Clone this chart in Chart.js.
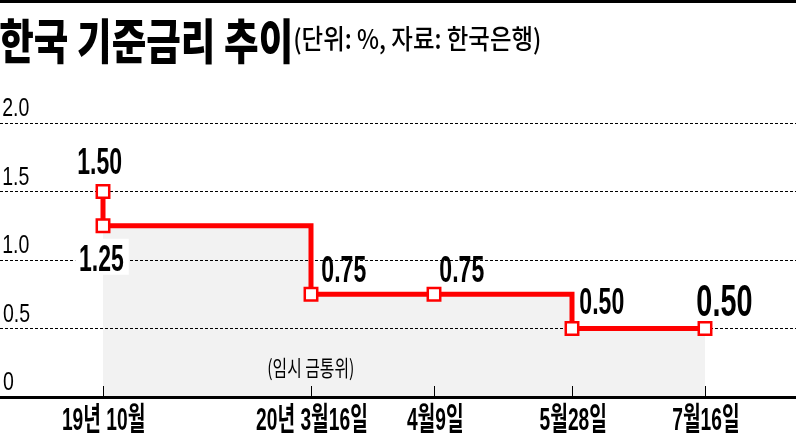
<!DOCTYPE html>
<html>
<head>
<meta charset="utf-8">
<style>
  html, body { margin: 0; padding: 0; background: #fff; }
</style>
</head>
<body>
<canvas id="rate-chart" width="796" height="435"></canvas>
<script src="https://cdn.jsdelivr.net/npm/chart.js@4/dist/chart.umd.min.js"></script>
<script>
// 회의 날짜 (x축 눈금), 간격은 원본처럼 불균등
const dates = ['19년 10월', '20년 3월16일', '4월9일', '5월28일', '7월16일'];
const dateSlots = [0, 2.08, 3.31, 4.69, 6.02];
// 기준금리 (%) 와 해당 날짜 인덱스
const rates = [1.50, 1.25, 0.75, 0.75, 0.50, 0.50];
const rateDate = [0, 0, 1, 2, 3, 4];
const rateText = ['1.50', '1.25', '0.75', '0.75', '0.50', '0.50'];
const yTicks = [0, 0.5, 1.0, 1.5, 2.0];

// 라벨 배치 (스타일)
const labelStyle = [
  { align: 'center', dx: -3, dy: -18, size: 36 },
  { align: 'center', dx: -1, dy: 45, size: 36, box: true },
  { align: 'left', dx: 11, dy: -12, size: 36 },
  { align: 'left', dx: 6, dy: -12, size: 36 },
  { align: 'left', dx: 8, dy: -15, size: 36 },
  { align: 'left', dx: -8, dy: -13, size: 45 }
];

const FONT = '"Liberation Sans", "Noto Sans CJK KR", sans-serif';
const KFONT = '"Noto Sans CJK KR", sans-serif';

// 가로로 눌린 글꼴 흉내: k 배율로 x 방향만 축소
function squeeze(ctx, text, x, y, font, k, align) {
  ctx.save();
  ctx.font = font;
  const m = ctx.measureText(text);
  const w = m.actualBoundingBoxLeft + m.actualBoundingBoxRight;
  ctx.translate(x, y);
  ctx.scale(k, 1);
  ctx.textAlign = 'left';
  ctx.textBaseline = 'alphabetic';
  const left = align === 'center' ? -w / 2 : 0;
  ctx.fillText(text, left + m.actualBoundingBoxLeft, 0);
  ctx.restore();
  return { left: x + left * k, width: w * k, asc: m.actualBoundingBoxAscent };
}

function fitWidth(ctx, text, x, y, font, width) {
  ctx.save();
  ctx.font = font;
  const m = ctx.measureText(text);
  ctx.restore();
  const w = m.actualBoundingBoxLeft + m.actualBoundingBoxRight;
  return squeeze(ctx, text, x, y, font, width / w, 'left');
}

const decorations = {
  id: 'decorations',
  afterDraw(chart) {
    const ctx = chart.ctx;
    const xs = chart.scales.x, ys = chart.scales.y;
    ctx.fillStyle = '#000';
    ctx.fillRect(0, 0, 796, 3);

    fitWidth(ctx, '한국 기준금리 추이', 0, 59, '900 48px ' + KFONT, 290);
    fitWidth(ctx, '(단위: %, 자료: 한국은행)', 295, 49, '500 27px ' + KFONT, 245);

    ys.ticks.forEach(t => {
      const y = ys.getPixelForValue(t.value);
      const txt = t.value === 0 ? '0' : t.value.toFixed(1);
      squeeze(ctx, txt, 3, y - 7, '25px ' + FONT, 0.78, 'left');
    });

    ctx.strokeStyle = '#000';
    ctx.lineWidth = 1;
    dateSlots.forEach((v, i) => {
      const x = Math.round(xs.getPixelForValue(v)) + 0.5;
      ctx.beginPath();
      ctx.moveTo(x, xs.top - 11);
      ctx.lineTo(x, xs.top);
      ctx.stroke();
      ctx.fillStyle = '#000';
      squeeze(ctx, dates[i], x, 430, 'bold 32px ' + FONT, 0.6, 'center');
    });

    squeeze(ctx, '(임시 금통위)', xs.getPixelForValue(dateSlots[1]), 376, '22px ' + KFONT, 0.72, 'center');

    const pts = chart.getDatasetMeta(0).data;
    rateText.forEach((txt, i) => {
      const s = labelStyle[i];
      const p = pts[i];
      const font = 'bold ' + s.size + 'px ' + FONT;
      const k = 0.64;
      if (s.box) {
        ctx.save();
        ctx.font = font;
        const m = ctx.measureText(txt);
        ctx.restore();
        const w = (m.actualBoundingBoxLeft + m.actualBoundingBoxRight) * k;
        ctx.fillStyle = '#fff';
        ctx.fillRect(p.x + s.dx - w / 2 - 5, p.y + s.dy - m.actualBoundingBoxAscent - 6, w + 10, m.actualBoundingBoxAscent + 10);
      }
      ctx.fillStyle = '#000';
      squeeze(ctx, txt, p.x + s.dx, p.y + s.dy, font, k, s.align);
    });
  }
};

new Chart(document.getElementById('rate-chart'), {
  type: 'line',
  data: {
    datasets: [{
      data: rates.map((v, i) => ({ x: dateSlots[rateDate[i]], y: v })),
      stepped: 'before',
      borderColor: '#ff0000',
      borderWidth: 5,
      borderJoinStyle: 'miter',
      fill: 'origin',
      backgroundColor: '#f2f2f2',
      pointStyle: 'rect',
      pointRadius: 8.8,
      pointBorderWidth: 2.5,
      pointBackgroundColor: '#fff',
      pointBorderColor: '#ff0000'
    }]
  },
  options: {
    responsive: false,
    animation: false,
    layout: { autoPadding: false, padding: { top: 123, left: 0, right: 0, bottom: 0 } },
    plugins: {
      legend: { display: false },
      tooltip: { enabled: false },
      filler: { drawTime: 'beforeDraw' }
    },
    scales: {
      x: {
        type: 'linear',
        min: -1.03,
        max: 6.93,
        afterFit: s => { s.height = 38; },
        afterBuildTicks: s => { s.ticks = dateSlots.map(v => ({ value: v })); },
        ticks: { display: false },
        grid: { display: false },
        border: { display: true, color: '#000', width: 3 }
      },
      y: {
        min: 0,
        max: 2,
        afterFit: s => { s.width = 0; },
        afterBuildTicks: s => { s.ticks = yTicks.map(v => ({ value: v })); },
        ticks: { display: false },
        grid: { color: '#000', lineWidth: 1, drawTicks: false },
        border: { display: false, dash: [3, 2] }
      }
    }
  },
  plugins: [decorations]
});
</script>
</body>
</html>
